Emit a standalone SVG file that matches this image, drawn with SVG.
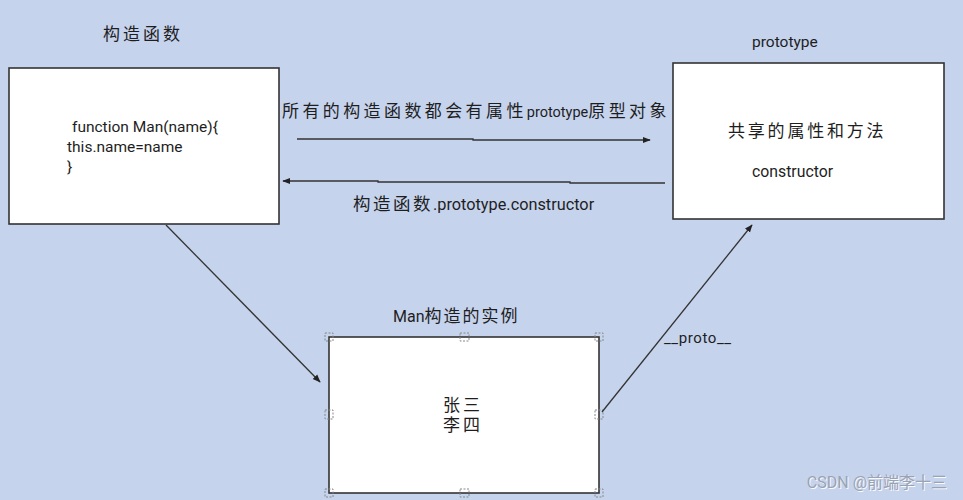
<svg xmlns="http://www.w3.org/2000/svg" width="963" height="500" viewBox="0 0 963 500">
<style>
.bg{fill:#c6d3ed}
.box{fill:#fff;stroke:#333;stroke-width:1.6}
.t{font-family:Roboto,"Liberation Sans","Noto Sans CJK SC",sans-serif;fill:#1e1e1e}
.cn{font-family:"Noto Sans CJK SC","Liberation Sans",sans-serif;fill:#1e1e1e}
.line{fill:none;stroke:#333;stroke-width:1.3}
.h{fill:none;stroke:#888;stroke-width:1;stroke-dasharray:2 1.5}
</style>
<defs>
<marker id="ah" viewBox="0 0 10 10" refX="9" refY="5" markerWidth="8" markerHeight="8" orient="auto" markerUnits="userSpaceOnUse">
<path d="M0,1 L10,5 L0,9 Z" fill="#222"/>
</marker>
</defs>
<rect class="bg" x="0" y="0" width="963" height="500"/>

<g id="title-constructor"><text class="cn" x="103" y="40" font-size="17" letter-spacing="3">构造函数</text></g>

<g id="node-constructor">
<rect class="box" x="9" y="68" width="270" height="156"/>
<text class="t" font-size="15.5"><tspan x="72" y="132">function Man(name){</tspan><tspan x="67" y="152">this.name=name</tspan><tspan x="67" y="172">}</tspan></text>
</g>

<g id="node-prototype">
<text class="t" x="752" y="47" font-size="15.5">prototype</text>
<rect class="box" x="673" y="63" width="271" height="156"/>
<text class="cn" x="728" y="137" font-size="17" letter-spacing="2.8">共享的属性和方法</text>
<text class="t" x="752" y="177" font-size="15.8">constructor</text>
</g>

<g id="node-instance">
<text class="cn" x="393" y="322" font-size="17" letter-spacing="2"><tspan class="t" font-size="16" letter-spacing="0">Man</tspan>构造的实例</text>
<rect class="box" x="329" y="337" width="270" height="156"/>
<g>
<rect class="h" x="325" y="333" width="8" height="8"/>
<rect class="h" x="460" y="333" width="9" height="8"/>
<rect class="h" x="595" y="333" width="8" height="8"/>
<rect class="h" x="325" y="410" width="8" height="9"/>
<rect class="h" x="595" y="410" width="8" height="9"/>
<rect class="h" x="325" y="489" width="8" height="8"/>
<rect class="h" x="460" y="489" width="9" height="8"/>
<rect class="h" x="595" y="489" width="8" height="8"/>
</g>
<text class="cn" x="443" y="411" font-size="17" letter-spacing="3">张三</text>
<text class="cn" x="443" y="431" font-size="17" letter-spacing="3">李四</text>
</g>

<g id="connectors">
<path class="line" d="M297,139 L473,139 L473,140 L650,140" marker-end="url(#ah)"/>
<text class="cn" x="282" y="117" font-size="17" letter-spacing="3.4">所有的构造函数都会有属性<tspan class="t" font-size="14.5" letter-spacing="0">prototype</tspan>原型对象</text>
<path class="line" d="M665,183 L570,183 L570,182 L378,182 L378,181 L283,181" marker-end="url(#ah)"/>
<text class="cn" x="353" y="210" font-size="17.5" letter-spacing="2.5">构造函数<tspan class="t" font-size="16.3" letter-spacing="0">.prototype.constructor</tspan></text>
<path class="line" d="M166,225 L320,382" marker-end="url(#ah)"/>
<path class="line" d="M602,412 L752,225" marker-end="url(#ah)"/>
<text class="t" x="664" y="343" font-size="15" letter-spacing="0.6">__proto__</text>
</g>

<text x="947" y="488" font-size="16" text-anchor="end" font-family="Roboto,'Liberation Sans','Noto Sans CJK SC',sans-serif" fill="#fff" opacity="0.9" transform="translate(1,1)">CSDN @前端李十三</text>
<text x="947" y="488" font-size="16" text-anchor="end" font-family="Roboto,'Liberation Sans','Noto Sans CJK SC',sans-serif" fill="#9aa3b3">CSDN @前端李十三</text>
</svg>
